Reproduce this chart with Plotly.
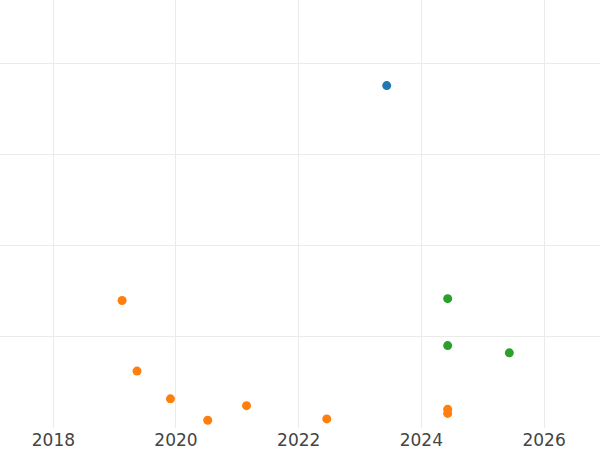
import plotly.graph_objects as go

blue_dates = ["2023-06-09"]
blue_values = [37.6]

orange_dates = ["2019-02-14", "2019-05-14", "2019-11-29", "2020-07-08",
                "2021-02-24", "2022-06-17", "2024-06-06", "2024-06-06"]
orange_values = [14.0, 6.25, 3.2, 0.85, 2.45, 1.0, 2.05, 1.6]

green_dates = ["2024-06-06", "2024-06-06", "2025-06-08"]
green_values = [14.2, 9.05, 8.25]

x_tick_vals = ["2018-01-01", "2020-01-01", "2022-01-01", "2024-01-01", "2026-01-01"]
x_tick_text = ["2018", "2020", "2022", "2024", "2026"]

fig = go.Figure()
for xs, ys, col in [(blue_dates, blue_values, "#1f77b4"),
                    (orange_dates, orange_values, "#ff7f0e"),
                    (green_dates, green_values, "#2ca02c")]:
    fig.add_trace(go.Scatter(x=xs, y=ys, mode="markers",
                             marker=dict(color=col, size=9),
                             showlegend=False))

fig.update_layout(
    width=600, height=450,
    template="none",
    paper_bgcolor="white", plot_bgcolor="white",
    margin=dict(l=0, r=0, t=0, b=22, pad=0),
    font=dict(family="DejaVu Sans", size=17, color="#444"),
    showlegend=False,
    xaxis=dict(type="date", range=["2017-02-17", "2026-11-30"],
               tickvals=x_tick_vals, ticktext=x_tick_text,
               showgrid=True, gridcolor="#ebebeb", gridwidth=1,
               zeroline=False, showline=False, ticks="", automargin=False),
    yaxis=dict(range=[0, 47], dtick=10, tick0=0, showticklabels=False,
               showgrid=True, gridcolor="#ebebeb", gridwidth=1,
               zeroline=False, showline=False, ticks="", automargin=False),
)

fig.write_html("out.html", config={"displayModeBar": False},
               post_script="document.body.style.margin='0';")
